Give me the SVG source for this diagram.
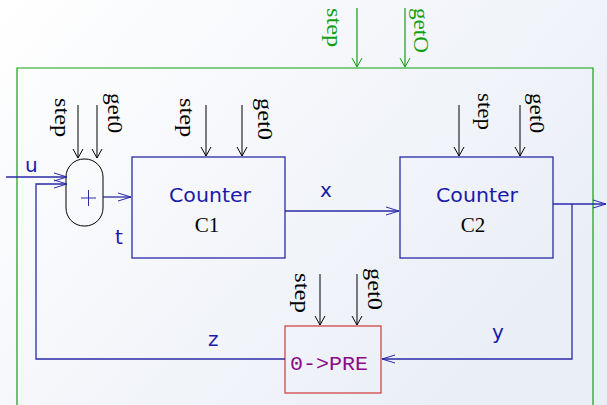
<svg xmlns="http://www.w3.org/2000/svg" width="607" height="405" viewBox="0 0 607 405">
<defs>
<linearGradient id="bg" x1="0" y1="0" x2="1" y2="0.6">
<stop offset="0" stop-color="#ffffff"/>
<stop offset="1" stop-color="#eaeef6"/>
</linearGradient>
<marker id="ab" markerWidth="14" markerHeight="10" refX="13" refY="5" orient="auto" markerUnits="userSpaceOnUse">
<path d="M0,1 L13,5 L0,9" fill="none" stroke="#2a2aa8" stroke-width="1"/>
</marker>
<marker id="ak" markerWidth="10" markerHeight="14" refX="9" refY="7" orient="auto" markerUnits="userSpaceOnUse">
<path d="M0,2 L9,7 L0,12" fill="none" stroke="#000" stroke-width="1"/>
</marker>
<marker id="ag" markerWidth="10" markerHeight="14" refX="9" refY="7" orient="auto" markerUnits="userSpaceOnUse">
<path d="M0,2 L9,7 L0,12" fill="none" stroke="#11a011" stroke-width="1"/>
</marker>
</defs>
<style>
.bl{fill:none;stroke:#2a2aa8;stroke-width:1.3}
.blk{fill:none;stroke:#000;stroke-width:1}
.gr{fill:none;stroke:#11a011;stroke-width:1.2}
.lbl{font-family:"Liberation Serif",serif;font-size:20px;fill:#000}
.glbl{font-family:"Liberation Serif",serif;font-size:20px;fill:#11a011}
.sig{font-family:"DejaVu Sans",sans-serif;font-size:20px;fill:#1a1aa8}
.cnt{font-family:"DejaVu Sans",sans-serif;font-size:20px;fill:#1a1aa8;text-anchor:middle}
.nm{font-family:"Liberation Serif",serif;font-size:21px;fill:#000;text-anchor:middle}
</style>
<rect width="607" height="405" fill="url(#bg)"/>

<g id="frame">
<path class="gr" d="M17,410 L17,68 L593,68 L593,410"/>
<line class="gr" x1="357" y1="8" x2="357" y2="67" marker-end="url(#ag)"/>
<line class="gr" x1="405" y1="8" x2="405" y2="67" marker-end="url(#ag)"/>
<text class="glbl" transform="translate(327,8) rotate(90)" textLength="39" lengthAdjust="spacingAndGlyphs">step</text>
<text class="glbl" transform="translate(414,8) rotate(90)" textLength="45" lengthAdjust="spacingAndGlyphs">getO</text>
</g>

<g id="adder">
<rect x="66" y="159" width="37" height="67" rx="18" ry="18" fill="none" stroke="#000" stroke-width="1"/>
<line x1="81" y1="198" x2="96" y2="198" stroke="#2a2aa8" stroke-width="1"/>
<line x1="88.5" y1="190" x2="88.5" y2="206" stroke="#2a2aa8" stroke-width="1"/>
<line class="blk" x1="78" y1="105" x2="78" y2="158" marker-end="url(#ak)"/>
<line class="blk" x1="97" y1="105" x2="97" y2="158" marker-end="url(#ak)"/>
<text class="lbl" transform="translate(55,98) rotate(90)" textLength="39" lengthAdjust="spacingAndGlyphs">step</text>
<text class="lbl" transform="translate(108,93) rotate(90)" textLength="40" lengthAdjust="spacingAndGlyphs">get0</text>
</g>

<g id="C1">
<rect x="132" y="157" width="153" height="101" fill="none" stroke="#2a2aa8" stroke-width="1.3"/>
<text class="cnt" x="210" y="202" textLength="82" lengthAdjust="spacingAndGlyphs">Counter</text>
<text class="nm" x="207" y="232">C1</text>
<line class="blk" x1="206" y1="105" x2="206" y2="156" marker-end="url(#ak)"/>
<line class="blk" x1="242" y1="105" x2="242" y2="156" marker-end="url(#ak)"/>
<text class="lbl" transform="translate(180,98) rotate(90)" textLength="39" lengthAdjust="spacingAndGlyphs">step</text>
<text class="lbl" transform="translate(258,98) rotate(90)" textLength="42" lengthAdjust="spacingAndGlyphs">get0</text>
</g>

<g id="C2">
<rect x="400" y="157" width="153" height="101" fill="none" stroke="#2a2aa8" stroke-width="1.3"/>
<text class="cnt" x="477" y="202" textLength="82" lengthAdjust="spacingAndGlyphs">Counter</text>
<text class="nm" x="473" y="232">C2</text>
<line class="blk" x1="459" y1="105" x2="459" y2="156" marker-end="url(#ak)"/>
<line class="blk" x1="520" y1="105" x2="520" y2="156" marker-end="url(#ak)"/>
<text class="lbl" transform="translate(478,93) rotate(90)" textLength="37" lengthAdjust="spacingAndGlyphs">step</text>
<text class="lbl" transform="translate(530,93) rotate(90)" textLength="40" lengthAdjust="spacingAndGlyphs">get0</text>
</g>

<g id="pre">
<rect x="285" y="326" width="96" height="67" fill="none" stroke="#d03838" stroke-width="1.2"/>
<text x="329" y="370" font-family="'Liberation Mono',monospace" font-size="21" fill="#8a0a8a" text-anchor="middle" textLength="78" lengthAdjust="spacingAndGlyphs">0-&gt;PRE</text>
<line class="blk" x1="320" y1="274" x2="320" y2="325" marker-end="url(#ak)"/>
<line class="blk" x1="357" y1="274" x2="357" y2="325" marker-end="url(#ak)"/>
<text class="lbl" transform="translate(295,273) rotate(90)" textLength="40" lengthAdjust="spacingAndGlyphs">step</text>
<text class="lbl" transform="translate(368,268) rotate(90)" textLength="42" lengthAdjust="spacingAndGlyphs">get0</text>
</g>

<g id="connectors">
<line class="bl" x1="6" y1="177" x2="67" y2="177" marker-end="url(#ab)"/>
<polyline class="bl" points="285,359 36,359 36,184 67,184" marker-end="url(#ab)"/>
<line class="bl" x1="103" y1="197" x2="131" y2="197" marker-end="url(#ab)"/>
<line class="bl" x1="285" y1="211" x2="399" y2="211" marker-end="url(#ab)"/>
<line class="bl" x1="553" y1="204" x2="606" y2="204" marker-end="url(#ab)"/>
<polyline class="bl" points="572,204 572,359 382,359" marker-end="url(#ab)"/>
<text class="sig" x="25" y="172">u</text>
<text class="sig" x="115" y="244">t</text>
<text class="sig" x="320" y="197">x</text>
<text class="sig" x="492" y="339">y</text>
<text class="sig" x="208" y="346">z</text>
</g>
</svg>
